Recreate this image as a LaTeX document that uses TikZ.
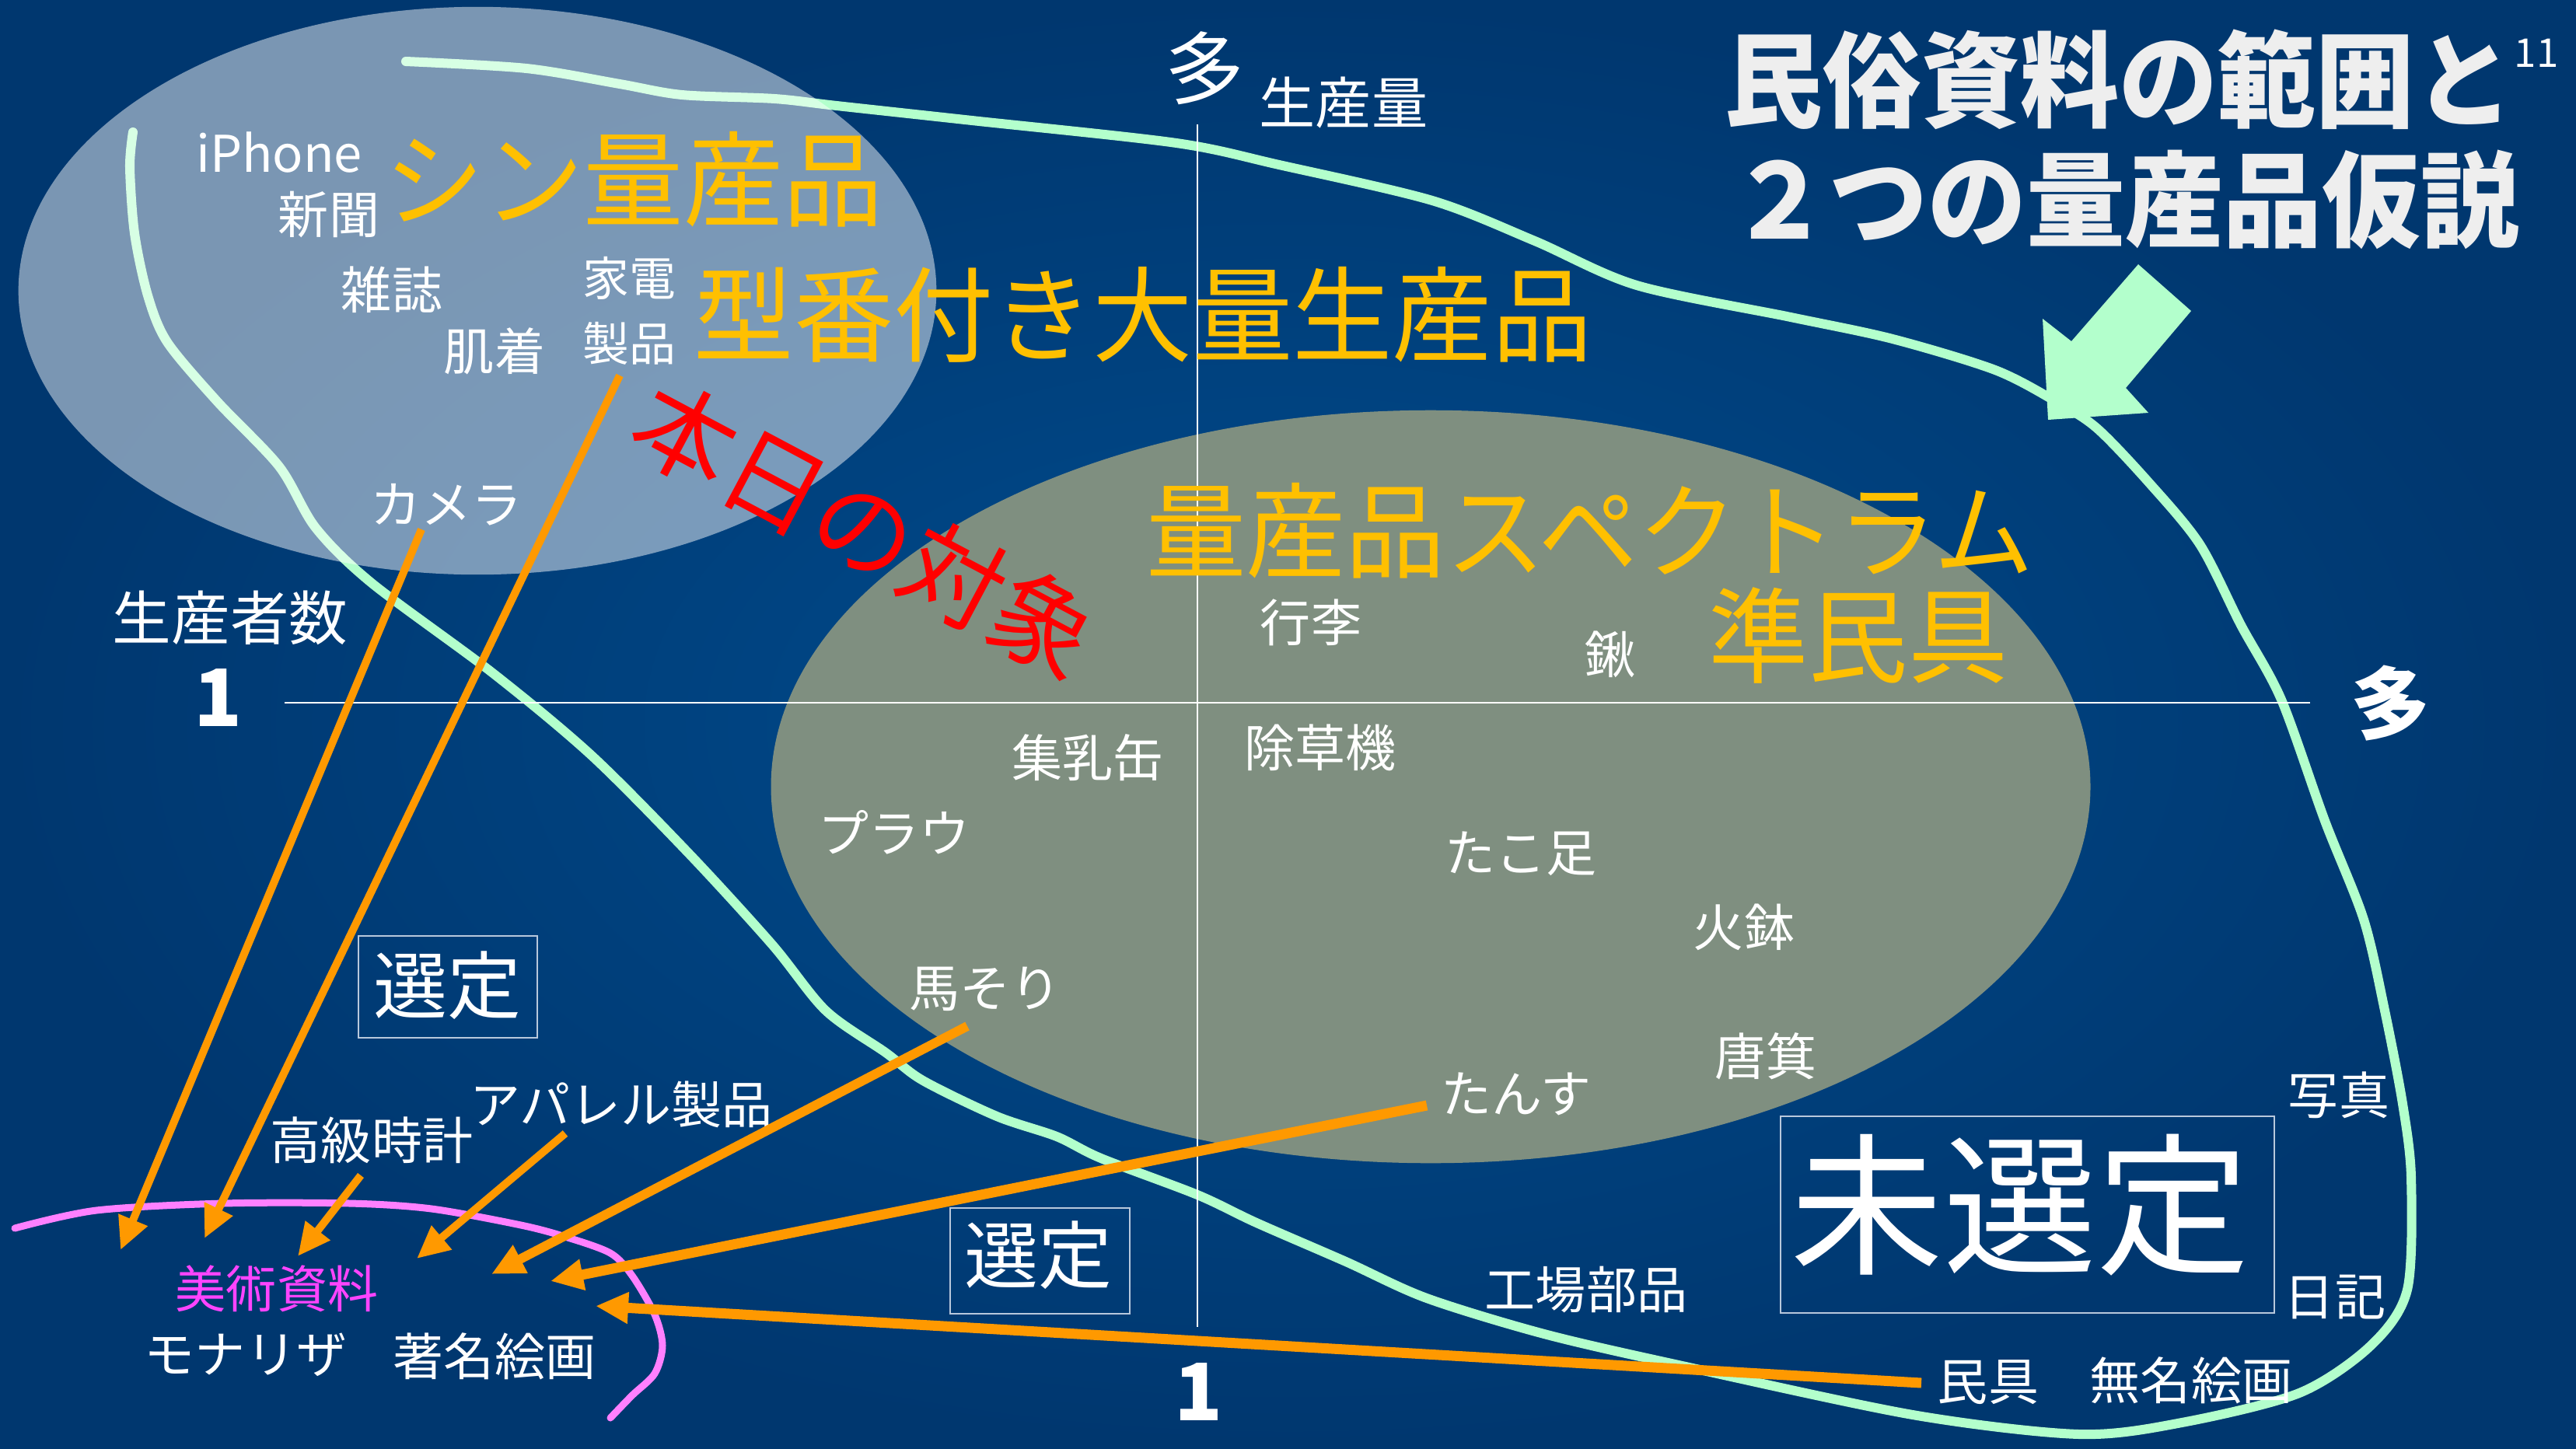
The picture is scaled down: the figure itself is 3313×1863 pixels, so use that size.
\documentclass[tikz,border=0pt]{standalone}
\usepackage{fontspec}
\setmainfont{Noto Sans CJK JP}
\newfontfamily\jpnarrow[FakeStretch=0.96]{Noto Sans CJK JP}
\newfontfamily\jptitle[FakeStretch=0.95]{Noto Sans CJK JP}
\usetikzlibrary{arrows.meta}
\definecolor{bginner}{HTML}{004C8E}
\definecolor{bgouter}{HTML}{00376F}
\definecolor{mint}{HTML}{B3FFCC}
\definecolor{lbl}{HTML}{FFC000}
\definecolor{arr}{HTML}{FF9900}
\definecolor{pinkline}{HTML}{FF80FF}
\definecolor{pinktext}{HTML}{FF44FF}
\definecolor{grayell}{HTML}{7F8F80}
\definecolor{titlec}{HTML}{EEEEEE}
\definecolor{boxc}{HTML}{B8C8DC}
\newcommand{\setfs}[1]{\fontsize{#1pt}{#1pt}\selectfont}
\tikzset{
  lab/.style={text=white, inner sep=0pt, font=\setfs{18.5}},
  biglab/.style={text=lbl, inner sep=0pt, font=\jpnarrow\setfs{38}},
  axlab/.style={text=white, inner sep=0pt, font=\setfs{29}},
  axnum/.style={text=white, inner sep=0pt, font=\bfseries\setfs{29}},
  titlelab/.style={text=titlec, inner sep=0pt, font=\jptitle\bfseries\setfs{38}},
  selbox/.style={draw=boxc, line width=0.02cm},
  axisline/.style={draw=white, line width=0.025cm},
  oarrow/.style={draw=arr, line width=#1, -{Triangle[length=0.42cm,width=0.38cm]}},
  oarrow/.default=0.1cm,
  mintline/.style={draw=mint, line width=0.12cm, line cap=round, line join=round},
  pinkcurve/.style={draw=pinkline, line width=0.09cm, line cap=round, line join=round}
}
\begin{document}
\begin{tikzpicture}[x=0.01cm,y=-0.01cm]
\useasboundingbox (0,0) rectangle (3313,1863);
\shade[inner color=bginner, outer color=bgouter] (0,0) rectangle (3313,1863);

% green boundary curve
\draw[mintline] plot[smooth, tension=0.5] coordinates {
 (522,79) (677,88) (797,108) (877,122) (996,127) (1076,136) (1250,155)
 (1513,184) (1645,212) (1842,258) (1974,310) (2105,367) (2303,408)
 (2434,436) (2566,476) (2645,517) (2697,551) (2763,620) (2829,700)
 (2882,804) (2934,900) (2990,1056) (3040,1183) (3067,1300) (3090,1420)
 (3101,1515) (3096,1659) (3049,1731) (2957,1792) (2806,1830) (2674,1845)
 (2460,1820) (2159,1756) (1986,1716) (1835,1670) (1731,1623) (1616,1573)
 (1540,1537) (1416,1490) (1359,1462) (1282,1436) (1187,1390) (1139,1354)
 (1062,1300) (993,1215) (887,1099) (761,972) (634,866) (478,750)
 (406,679) (359,600) (279,516) (215,440) (190,380) (173,300)
 (167,215) (171,170)};

% ellipses
\fill[white, fill opacity=0.48] (614,374) ellipse [x radius=5.9cm, y radius=3.65cm];
\fill[grayell] (1840,1012) ellipse [x radius=8.48cm, y radius=4.84cm];

% axes
\draw[axisline] (1540,160) -- (1540,1707);
\draw[axisline] (366,904) -- (2971,904);

% big mint arrow
\fill[mint] (2750,340) -- (2664,439) -- (2627,410) -- (2634,540) -- (2763,531) -- (2734,499) -- (2818,400) -- cycle;

% boxes
\draw[selbox] (461,1204) rectangle (691,1335);
\draw[selbox] (1222,1554) rectangle (1453,1690);
\draw[selbox] (2290,1436) rectangle (2925,1689);

% title
\node[titlelab] (t1) at (2725,102) {民俗資料の範囲と};
\node[titlelab] (t2) at (2733,257) {２つの量産品仮説};
\node[text=white, inner sep=0pt, font=\setfs{14.5}] (pg) at (3262,68) {11};

% axis labels
\node[axlab] (ytop) at (1549,88) {多};
\node[lab, font=\setfs{20.5}] (yq) at (1728,132) {生産量};
\node[lab, font=\setfs{21.5}] (xn) at (296,795) {生産者数};
\node[axnum] (one1) at (281,897) {1};
\node[axnum] (xmany) at (3074,905) {多};
\node[axnum] (one2) at (1542,1790) {1};

% orange headings
\node[biglab] (shin) at (815,231) {シン量産品};
\node[biglab] (kata) at (1470,405) {型番付き大量生産品};
\node[biglab] (spec) at (2045,683) {量産品スペクトラム};
\node[biglab] (jun) at (2390,817) {準民具};

% red
\node[text=red, inner sep=0pt, font=\setfs{37}, rotate=-28] (honjitsu) at (1112,680) {本日の対象};

% white labels
\node[lab] (iphone) at (359,196) {iPhone};
\node[lab] (shinbun) at (423,276) {新聞};
\node[lab] (zasshi) at (504,373) {雑誌};
\node[lab, font=\setfs{17}] (kaden) at (809,358) {家電};
\node[lab, font=\setfs{17}] (seihin) at (809,442) {製品};
\node[lab] (hadagi) at (636,452) {肌着};
\node[lab] (camera) at (574,649) {カメラ};
\node[lab] (kori) at (1686,801) {行李};
\node[lab] (kuwa) at (2071,842) {鍬};
\node[lab] (shunyu) at (1399,975) {集乳缶};
\node[lab] (josou) at (1698,962) {除草機};
\node[lab] (plow) at (1150,1071) {プラウ};
\node[lab] (tako) at (1956,1098) {たこ足};
\node[lab] (hibachi) at (2243,1193) {火鉢};
\node[lab] (basori) at (1267,1272) {馬そり};
\node[lab] (tomi) at (2271,1359) {唐箕};
\node[lab] (tansu) at (1950,1407) {たんす};
\node[lab] (shashin) at (3008,1409) {写真};
\node[lab] (nikki) at (3003,1669) {日記};
\node[lab] (kojo) at (2040,1659) {工場部品};
\node[lab] (mingu) at (2557,1778) {民具};
\node[lab] (mumei) at (2818,1776) {無名絵画};
\node[lab] (kokyu) at (478,1467) {高級時計};
\node[lab] (apparel) at (799,1421) {アパレル製品};
\node[lab, text=pinktext] (bijutsu) at (356,1658) {美術資料};
\node[lab] (monalisa) at (316,1743) {モナリザ};
\node[lab] (chomei) at (636,1745) {著名絵画};
\node[lab, font=\setfs{27}] (sentei1) at (575,1268) {選定};
\node[lab, font=\setfs{27}] (sentei2) at (1335,1615) {選定};
\node[lab, font=\setfs{56}] (misentei) at (2598,1550) {未選定};

% pink curve
\draw[pinkcurve] plot[smooth, tension=0.5] coordinates {
 (19,1580) (124,1557) (287,1548) (450,1548) (555,1555) (670,1576)
 (727,1591) (785,1612) (813,1641) (842,1691) (852,1731) (842,1767)
 (813,1795) (785,1824)};

% arrow endpoints
\coordinate (sa) at (542,681);  \coordinate (ea) at (155,1608);
\coordinate (sb) at (797,483);  \coordinate (eb) at (263,1593);
\coordinate (sc) at (464,1512); \coordinate (ec) at (383,1616);
\coordinate (sd) at (727,1458); \coordinate (ed) at (536,1619);
\coordinate (se) at (1244,1320); \coordinate (ee) at (632,1639);
\coordinate (sf) at (1835,1422); \coordinate (ef) at (708,1648);
\coordinate (sg) at (2471,1779); \coordinate (eg) at (766,1680);
\draw[oarrow=0.1cm] (sa) -- (ea);
\draw[oarrow=0.1cm] (sb) -- (eb);
\draw[oarrow=0.1cm] (sc) -- (ec);
\draw[oarrow=0.1cm] (sd) -- (ed);
\draw[oarrow=0.12cm] (se) -- (ee);
\draw[oarrow=0.13cm] (sf) -- (ef);
\draw[oarrow=0.13cm] (sg) -- (eg);
\end{tikzpicture}
\end{document}
